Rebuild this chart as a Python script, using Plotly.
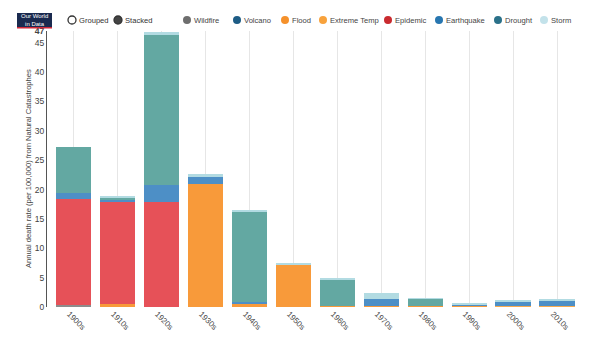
import plotly.graph_objects as go

decades = ["1900s", "1910s", "1920s", "1930s", "1940s", "1950s",
           "1960s", "1970s", "1980s", "1990s", "2000s", "2010s"]

wildfire     = [0.30, 0.00, 0.00, 0.00, 0.00, 0.00, 0.05, 0.00, 0.00, 0.00, 0.00, 0.00]
volcano      = [0.00, 0.00, 0.00, 0.00, 0.00, 0.00, 0.00, 0.00, 0.02, 0.00, 0.00, 0.00]
flood        = [0.00, 0.55, 0.00, 21.0, 0.45, 7.30, 0.12, 0.10, 0.15, 0.20, 0.15, 0.05]
extreme_temp = [0.00, 0.00, 0.00, 0.00, 0.00, 0.00, 0.00, 0.00, 0.00, 0.05, 0.05, 0.15]
epidemic     = [18.1, 17.35, 17.86, 0.00, 0.00, 0.00, 0.00, 0.00, 0.00, 0.00, 0.00, 0.00]
earthquake   = [1.00, 0.25, 2.95, 1.20, 0.40, 0.00, 0.03, 1.20, 0.00, 0.15, 0.80, 0.95]
drought      = [7.80, 0.55, 25.5, 0.00, 15.35, 0.00, 4.45, 0.00, 1.20, 0.00, 0.00, 0.00]
storm        = [0.00, 0.20, 0.60, 0.40, 0.40, 0.20, 0.20, 1.00, 0.05, 0.30, 0.15, 0.10]

series = [
    ("Wildfire", wildfire, "#8c8c8c", "#6e6e6e"),
    ("Volcano", volcano, "#2d6f93", "#1d5c85"),
    ("Flood", flood, "#f89a3a", "#f5912b"),
    ("Extreme Temp", extreme_temp, "#f9ab4f", "#f8a23c"),
    ("Epidemic", epidemic, "#e65158", "#c92a2f"),
    ("Earthquake", earthquake, "#4d8fc6", "#2776b0"),
    ("Drought", drought, "#63a8a2", "#2a7189"),
    ("Storm", storm, "#b2dbe2", "#c3e2ea"),
]

W, H = 598, 347
ML, MR, MT, MB = 47, 19, 31, 40
PW, PH = W - ML - MR, H - MT - MB


def px(x):
    return (x - ML) / PW


def py(y):
    return (H - MB - y) / PH


fig = go.Figure()
for name, vals, col, _ in series:
    fig.add_trace(go.Bar(
        x=decades, y=vals, name=name, showlegend=False,
        marker=dict(color=col, line=dict(width=0)),
        hoverinfo="x+y+name",
    ))

shapes = []
annotations = []
FONT = "Liberation Sans, Arial, sans-serif"
LF = 7.6

# logo
shapes.append(dict(type="rect", xref="paper", yref="paper",
                   x0=px(17), x1=px(52), y0=py(27), y1=py(13),
                   fillcolor="#1a2a4f", line=dict(width=0), layer="above"))
shapes.append(dict(type="rect", xref="paper", yref="paper",
                   x0=px(17), x1=px(52), y0=py(28.5), y1=py(27),
                   fillcolor="#d0293a", line=dict(width=0), layer="above"))
annotations.append(dict(xref="paper", yref="paper", x=px(34.5), y=py(20),
                        text="Our World<br>in Data", showarrow=False,
                        font=dict(family=FONT, size=6, color="white"),
                        xanchor="center", yanchor="middle"))

# radio buttons
r = 4.0
cy = 20
shapes.append(dict(type="circle", xref="paper", yref="paper",
                   x0=px(72 - r), x1=px(72 + r), y0=py(cy + r), y1=py(cy - r),
                   line=dict(color="#333", width=1.3), fillcolor="white"))
annotations.append(dict(xref="paper", yref="paper", x=px(77), y=py(cy),
                        text="Grouped", showarrow=False, xanchor="left", yanchor="middle",
                        font=dict(family=FONT, size=LF, color="#333")))
shapes.append(dict(type="circle", xref="paper", yref="paper",
                   x0=px(118 - r), x1=px(118 + r), y0=py(cy + r), y1=py(cy - r),
                   line=dict(color="#333", width=1.3), fillcolor="#444"))
annotations.append(dict(xref="paper", yref="paper", x=px(123), y=py(cy),
                        text="Stacked", showarrow=False, xanchor="left", yanchor="middle",
                        font=dict(family=FONT, size=LF, color="#333")))

legend_x = [187, 237, 285, 323, 388, 439, 498, 544]
for (name, _, _, lcol), lx in zip(series, legend_x):
    shapes.append(dict(type="circle", xref="paper", yref="paper",
                       x0=px(lx - r), x1=px(lx + r), y0=py(cy + r), y1=py(cy - r),
                       line=dict(width=0), fillcolor=lcol))
    annotations.append(dict(xref="paper", yref="paper", x=px(lx + 4.5), y=py(cy),
                            text=name, showarrow=False, xanchor="left", yanchor="middle",
                            font=dict(family=FONT, size=LF, color="#444")))

# y-axis title
annotations.append(dict(xref="paper", yref="paper", x=px(28), y=0.5,
                        text="Annual death rate (per 100,000) from Natural Catastrophes",
                        textangle=-90, showarrow=False, xanchor="center", yanchor="middle",
                        font=dict(family=FONT, size=7.6, color="#444")))

ytick_vals = [0, 5, 10, 15, 20, 25, 30, 35, 40, 45, 47]
ytick_text = ["0", "5", "10", "15", "20", "25", "30", "35", "40", "45", "<b>47</b>"]

fig.update_layout(
    width=W, height=H,
    margin=dict(l=ML, r=MR, t=MT, b=MB, pad=0),
    paper_bgcolor="white", plot_bgcolor="white",
    barmode="stack", bargap=0.2,
    font=dict(family=FONT, size=8.5, color="#444"),
    shapes=shapes, annotations=annotations,
    xaxis=dict(range=[-0.6, 11.5], showgrid=True, gridcolor="#e6e6e6", gridwidth=1,
               tickangle=45, tickfont=dict(size=8, color="#444"),
               ticklabelshift=-4,
               showline=False, zeroline=False, ticks=""),
    yaxis=dict(range=[0, 47], tickvals=ytick_vals, ticktext=ytick_text,
               showgrid=False, zeroline=False, showline=True, linecolor="#555",
               linewidth=1, ticks="", tickfont=dict(size=8.5, color="#444"),
               automargin=False),
    showlegend=False,
)

fig.write_html("out.html")
